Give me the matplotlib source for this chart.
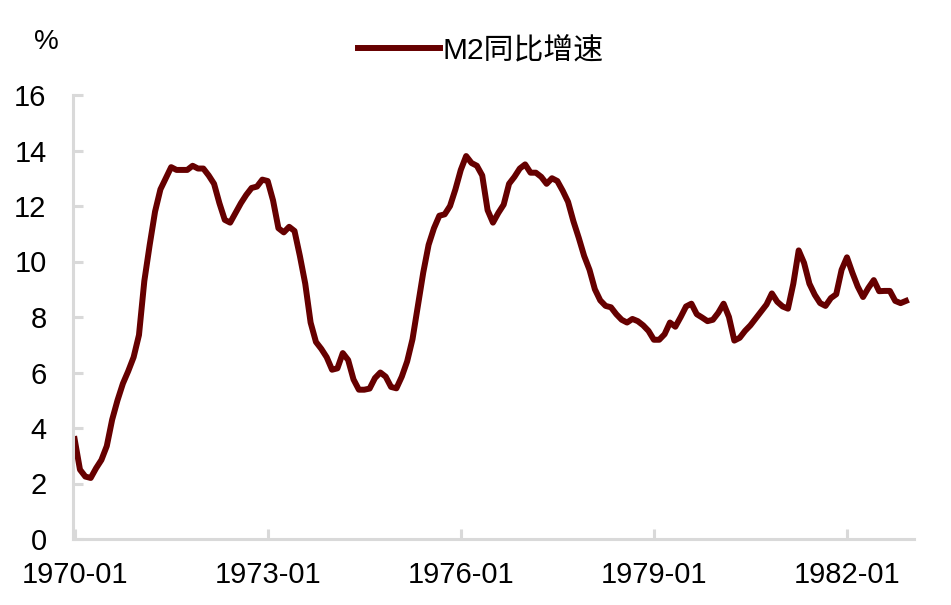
import matplotlib
matplotlib.use("Agg")
import matplotlib.pyplot as plt
import numpy as np
import pandas as pd

plt.rcParams['font.family'] = ['Liberation Sans', 'Noto Sans CJK SC', 'DejaVu Sans']

months = pd.date_range("1970-01-01", periods=156, freq="MS").strftime("%Y-%m").tolist()

m2_yoy = [
    # 1970
    3.6, 2.5, 2.25, 2.2, 2.55, 2.85, 3.35, 4.3, 5.0, 5.6, 6.05, 6.55,
    # 1971
    7.35, 9.3, 10.6, 11.8, 12.6, 13.0, 13.4, 13.3, 13.3, 13.3, 13.45, 13.35,
    # 1972
    13.35, 13.1, 12.8, 12.1, 11.5, 11.4, 11.75, 12.1, 12.4, 12.65, 12.7, 12.95,
    # 1973
    12.9, 12.2, 11.2, 11.05, 11.25, 11.1, 10.2, 9.2, 7.8, 7.1, 6.85, 6.55,
    # 1974
    6.1, 6.15, 6.7, 6.45, 5.75, 5.38, 5.38, 5.42, 5.8, 6.0, 5.85, 5.48,
    # 1975
    5.43, 5.85, 6.4, 7.2, 8.4, 9.6, 10.6, 11.2, 11.65, 11.7, 12.0, 12.6,
    # 1976
    13.3, 13.8, 13.55, 13.45, 13.1, 11.85, 11.4, 11.75, 12.05, 12.8, 13.05, 13.35,
    # 1977
    13.5, 13.2, 13.2, 13.05, 12.8, 13.0, 12.9, 12.55, 12.15, 11.45, 10.85, 10.2,
    # 1978
    9.7, 9.0, 8.6, 8.4, 8.35, 8.1, 7.9, 7.8, 7.93, 7.85, 7.7, 7.5,
    # 1979
    7.18, 7.18, 7.38, 7.8, 7.65, 8.0, 8.38, 8.48, 8.1, 7.98, 7.85, 7.9,
    # 1980
    8.15, 8.48, 8.0, 7.15, 7.25, 7.5, 7.7, 7.95, 8.2, 8.45, 8.85, 8.55,
    # 1981
    8.38, 8.3, 9.2, 10.4, 9.95, 9.2, 8.8, 8.5, 8.4, 8.68, 8.82, 9.7,
    # 1982
    10.15, 9.6, 9.1, 8.72, 9.05, 9.33, 8.93, 8.94, 8.94, 8.58, 8.5, 8.58,
]

series_name = "M2同比增速"
y_ticks = [0, 2, 4, 6, 8, 10, 12, 14, 16]
x_tick_labels = ["1970-01", "1973-01", "1976-01", "1979-01", "1982-01"]

x = np.arange(len(m2_yoy))
x_tick_pos = [months.index(lbl) for lbl in x_tick_labels]

fig = plt.figure(figsize=(9.51, 6.05), dpi=100)
ax = fig.add_axes([73/951, 1-539/605, (914-73)/951, (539-95)/605])

line_color = '#660000'
ax.plot(x, m2_yoy, color=line_color, lw=4.3, solid_joinstyle='round', label=series_name)

ax.set_xlim(-0.3, 156.5)
ax.set_ylim(0, 16)
ax.set_yticks(y_ticks)
ax.set_xticks(x_tick_pos)
ax.set_xticklabels(x_tick_labels)

for side in ['top', 'right']:
    ax.spines[side].set_visible(False)
spine_color = '#d9d9d9'
for side in ['left', 'bottom']:
    ax.spines[side].set_color(spine_color)
    ax.spines[side].set_linewidth(2.2)

ax.tick_params(axis='both', direction='in', length=7, width=2.2, color=spine_color,
               labelsize=21, labelcolor='black')
ax.tick_params(axis='x', pad=16)
ax.tick_params(axis='y', pad=19)

fig.text(46/951, 1-42/605, "%", fontsize=20, ha='center', va='center')

leg = fig.legend(loc='center', bbox_to_anchor=(481/951, 1-50/605), frameon=False,
                 fontsize=21.5, handlelength=2.75, handletextpad=0.1)

fig.savefig("out.png", dpi=100)
